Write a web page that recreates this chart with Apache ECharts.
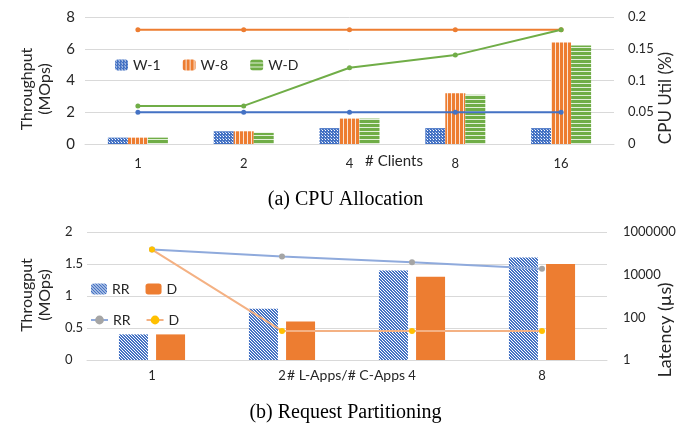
<!DOCTYPE html>
<html>
<head>
<meta charset="utf-8">
<script src="https://cdn.jsdelivr.net/npm/echarts@6.0.0/dist/echarts.min.js"></script>
<style>
  html, body { margin: 0; padding: 0; background: #fff; }
  #main { width: 691px; height: 432px; }
</style>
</head>
<body>
<div id="main"></div>
<script>
// (a) CPU Allocation
const clients = ['1', '2', '4', '8', '16'];
const w1Tput = [0.4, 0.8, 1.0, 1.0, 1.0];
const w8Tput = [0.4, 0.8, 1.6, 3.2, 6.4];
const wdTput = [0.4, 0.7, 1.6, 3.1, 6.2];
const w1Cpu = [0.05, 0.05, 0.05, 0.05, 0.05];
const w8Cpu = [0.18, 0.18, 0.18, 0.18, 0.18];
const wdCpu = [0.06, 0.06, 0.12, 0.14, 0.18];

// (b) Request Partitioning
const apps = ['1', '2', '4', '8'];
const rrTput = [0.4, 0.8, 1.4, 1.6];
const dTput = [0.4, 0.6, 1.3, 1.5];
const rrLat = [150000, 72000, 38000, 19000];
const dLat = [150000, 23, 23, 23];

const FONT = 'Lato';
const TXT = '#262626';
const GRID = '#d9d9d9';

// fill patterns for the bars
function pattern(w, h, draw) {
  const c = document.createElement('canvas');
  c.width = w;
  c.height = h;
  draw(c.getContext('2d'));
  return { image: c, repeat: 'repeat' };
}

const dotsBlue = pattern(3, 3, ctx => {
  ctx.fillStyle = '#4472c4';
  ctx.fillRect(0, 0, 3, 3);
  ctx.fillStyle = '#ffffff';
  ctx.fillRect(1, 1, 1, 1);
  ctx.fillStyle = '#b4c7e7';
  ctx.fillRect(0, 0, 1, 1);
});
const vStripeOrange = pattern(4, 4, ctx => {
  ctx.fillStyle = '#ed7d31';
  ctx.fillRect(0, 0, 4, 4);
  ctx.fillStyle = '#fbe5d6';
  ctx.fillRect(3, 0, 1, 4);
});
const hStripeGreen = pattern(4, 4, ctx => {
  ctx.fillStyle = '#70ad47';
  ctx.fillRect(0, 0, 4, 4);
  ctx.fillStyle = '#e2f0d9';
  ctx.fillRect(0, 3, 4, 1);
});
const diagBlue = pattern(3, 3, ctx => {
  ctx.fillStyle = '#4472c4';
  ctx.fillRect(0, 0, 3, 3);
  ctx.fillStyle = '#ffffff';
  for (let i = 0; i < 3; i++) ctx.fillRect(i, i, 1, 1);
});

const chart = echarts.init(document.getElementById('main'));

const option = {
  animation: false,
  textStyle: { fontFamily: FONT, color: TXT },
  title: [
    {
      text: '(a) CPU Allocation',
      left: 'center',
      top: 185,
      textStyle: { fontFamily: 'Liberation Serif', fontSize: 20, fontWeight: 'normal', color: '#000' }
    },
    {
      text: '(b) Request Partitioning',
      left: 'center',
      top: 398,
      textStyle: { fontFamily: 'Liberation Serif', fontSize: 20, fontWeight: 'normal', color: '#000' }
    }
  ],
  legend: [
    {
      data: ['W-1', 'W-8', 'W-D'],
      left: 110,
      top: 53,
      itemWidth: 13,
      itemHeight: 11,
      itemGap: 22,
      itemTextGap: 4,
      textStyle: { fontFamily: FONT, fontSize: 14, color: TXT }
    },
    {
      data: ['RR', 'D'],
      left: 86,
      top: 277,
      itemWidth: 16,
      itemHeight: 11,
      itemGap: 16,
      itemTextGap: 2,
      textStyle: { fontFamily: FONT, fontSize: 14, color: TXT }
    },
    {
      data: ['RR-lat', 'D-lat'],
      left: 85,
      top: 308,
      itemWidth: 17,
      itemHeight: 11,
      itemGap: 15,
      itemTextGap: 2,
      formatter: name => name.replace('-lat', ''),
      textStyle: { fontFamily: FONT, fontSize: 14, color: TXT }
    }
  ],
  grid: [
    { left: 85, right: 77, top: 17, height: 127 },
    { left: 87, right: 84, top: 232, height: 128 }
  ],
  xAxis: [
    {
      gridIndex: 0,
      type: 'category',
      data: clients,
      axisTick: { show: false },
      axisLine: { lineStyle: { color: GRID } },
      axisLabel: { fontSize: 13, color: TXT, margin: 13 }
    },
    {
      gridIndex: 1,
      type: 'category',
      data: apps,
      axisTick: { show: false },
      axisLine: { lineStyle: { color: GRID } },
      axisLabel: { fontSize: 13, color: TXT, margin: 9 }
    }
  ],
  yAxis: [
    {
      gridIndex: 0,
      type: 'value',
      min: 0,
      max: 8,
      interval: 2,
      axisLabel: { fontSize: 15, color: TXT, margin: 10 },
      splitLine: { lineStyle: { color: GRID } }
    },
    {
      gridIndex: 0,
      type: 'value',
      position: 'right',
      min: 0,
      max: 0.2,
      interval: 0.05,
      axisLabel: { fontSize: 13, color: TXT, margin: 14 },
      splitLine: { show: false }
    },
    {
      gridIndex: 1,
      type: 'value',
      min: 0,
      max: 2,
      interval: 0.5,
      axisLabel: { fontSize: 13, color: TXT, margin: 22, align: 'left' },
      splitLine: { lineStyle: { color: GRID } }
    },
    {
      gridIndex: 1,
      type: 'log',
      logBase: 100,
      min: 1,
      max: 1000000,
      position: 'right',
      axisLine: { show: false },
      axisTick: { show: false },
      axisLabel: {
        fontSize: 13,
        color: TXT,
        margin: 16,
        formatter: v => String(Math.round(v))
      },
      splitLine: { show: false }
    }
  ],
  graphic: [
    {
      type: 'text',
      x: 36,
      y: 89,
      rotation: Math.PI / 2,
      style: {
        text: 'Throughput\n(MOps)',
        font: '16px Lato',
        fill: TXT,
        align: 'center',
        verticalAlign: 'middle',
        lineHeight: 18
      }
    },
    {
      type: 'text',
      x: 666,
      y: 98,
      rotation: Math.PI / 2,
      style: {
        text: 'CPU Util (%)',
        font: '17px Lato',
        fill: TXT,
        align: 'center',
        verticalAlign: 'middle'
      }
    },
    {
      type: 'text',
      x: 394,
      y: 161,
      style: {
        text: '# Clients',
        font: '15px Lato',
        fill: TXT,
        align: 'center',
        verticalAlign: 'middle'
      }
    },
    {
      type: 'text',
      x: 36,
      y: 295,
      rotation: Math.PI / 2,
      style: {
        text: 'Througput\n(MOps)',
        font: '16px Lato',
        fill: TXT,
        align: 'center',
        verticalAlign: 'middle',
        lineHeight: 18
      }
    },
    {
      type: 'text',
      x: 665,
      y: 330,
      rotation: Math.PI / 2,
      style: {
        text: 'Latency (µs)',
        font: '18px Lato',
        fill: TXT,
        align: 'center',
        verticalAlign: 'middle'
      }
    },
    {
      type: 'text',
      x: 287,
      y: 375,
      style: {
        text: '# L-Apps/# C-Apps',
        font: '14px Lato',
        fill: TXT,
        align: 'left',
        verticalAlign: 'middle'
      }
    }
  ],
  series: [
    // throughput bars
    {
      name: 'W-1', type: 'bar', xAxisIndex: 0, yAxisIndex: 0,
      barWidth: 20, barGap: '0%',
      itemStyle: { color: dotsBlue },
      data: w1Tput
    },
    {
      name: 'W-8', type: 'bar', xAxisIndex: 0, yAxisIndex: 0,
      barWidth: 20, barGap: '0%',
      itemStyle: { color: vStripeOrange },
      data: w8Tput
    },
    {
      name: 'W-D', type: 'bar', xAxisIndex: 0, yAxisIndex: 0,
      barWidth: 20, barGap: '0%',
      itemStyle: { color: hStripeGreen },
      data: wdTput
    },
    // cpu lines
    {
      name: 'W-1 cpu', type: 'line', xAxisIndex: 0, yAxisIndex: 1, z: 5,
      symbol: 'circle', symbolSize: 5,
      itemStyle: { color: '#4472c4' },
      lineStyle: { color: '#4472c4', width: 2 },
      data: w1Cpu
    },
    {
      name: 'W-8 cpu', type: 'line', xAxisIndex: 0, yAxisIndex: 1, z: 5,
      symbol: 'circle', symbolSize: 5,
      itemStyle: { color: '#ed7d31' },
      lineStyle: { color: '#ed7d31', width: 2 },
      data: w8Cpu
    },
    {
      name: 'W-D cpu', type: 'line', xAxisIndex: 0, yAxisIndex: 1, z: 5,
      symbol: 'circle', symbolSize: 5,
      itemStyle: { color: '#70ad47' },
      lineStyle: { color: '#70ad47', width: 2 },
      data: wdCpu
    },
    // request partitioning bars
    {
      name: 'RR', type: 'bar', xAxisIndex: 1, yAxisIndex: 2,
      barWidth: 29, barGap: '28%',
      itemStyle: { color: diagBlue },
      data: rrTput
    },
    {
      name: 'D', type: 'bar', xAxisIndex: 1, yAxisIndex: 2,
      barWidth: 29, barGap: '28%',
      itemStyle: { color: '#ed7d31' },
      data: dTput
    },
    // latency lines
    {
      name: 'RR-lat', type: 'line', xAxisIndex: 1, yAxisIndex: 3, z: 5,
      symbol: 'circle', symbolSize: 6,
      itemStyle: { color: '#a5a5a5' },
      lineStyle: { color: '#8faadc', width: 2 },
      data: rrLat
    },
    {
      name: 'D-lat', type: 'line', xAxisIndex: 1, yAxisIndex: 3, z: 5,
      symbol: 'circle', symbolSize: 6,
      itemStyle: { color: '#ffc000' },
      lineStyle: { color: '#f4b183', width: 2 },
      data: dLat
    }
  ]
};

chart.setOption(option);
</script>
</body>
</html>
